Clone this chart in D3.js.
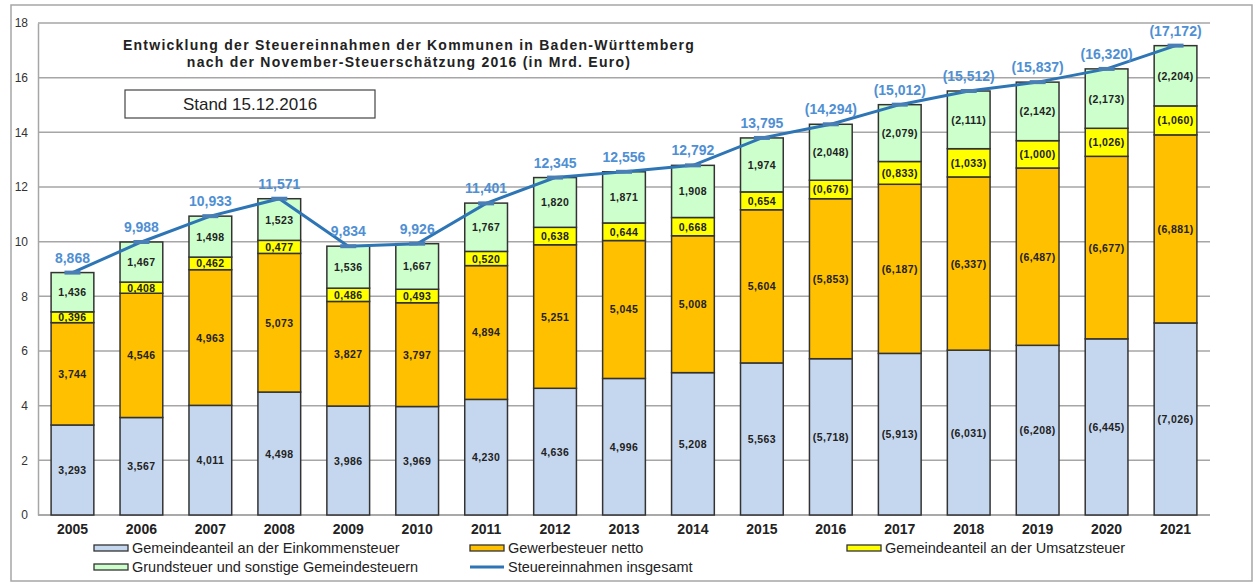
<!DOCTYPE html>
<html>
<head>
<meta charset="utf-8">
<script src="https://cdn.jsdelivr.net/npm/d3@7"></script>
<style>
  body { margin: 0; background: #fff; }
  svg text { font-family: "Liberation Sans", Arial, sans-serif; }
</style>
</head>
<body>
<div id="chart"></div>
<script>
// Data (Mrd. Euro), values from 2016 on are estimates (shown in brackets)
var years = ["2005","2006","2007","2008","2009","2010","2011","2012","2013","2014","2015","2016","2017","2018","2019","2020","2021"];
var einkommen = [3.293, 3.567, 4.011, 4.498, 3.986, 3.969, 4.230, 4.636, 4.996, 5.208, 5.563, 5.718, 5.913, 6.031, 6.208, 6.445, 7.026];
var gewerbe   = [3.744, 4.546, 4.963, 5.073, 3.827, 3.797, 4.894, 5.251, 5.045, 5.008, 5.604, 5.853, 6.187, 6.337, 6.487, 6.677, 6.881];
var umsatz    = [0.396, 0.408, 0.462, 0.477, 0.486, 0.493, 0.520, 0.638, 0.644, 0.668, 0.654, 0.676, 0.833, 1.033, 1.000, 1.026, 1.060];
var grund     = [1.436, 1.467, 1.498, 1.523, 1.536, 1.667, 1.767, 1.820, 1.871, 1.908, 1.974, 2.048, 2.079, 2.111, 2.142, 2.173, 2.204];
var totals    = [8.868, 9.988, 10.933, 11.571, 9.834, 9.926, 11.401, 12.345, 12.556, 12.792, 13.795, 14.294, 15.012, 15.512, 15.837, 16.320, 17.172];
var firstEstimate = "2016";
var yTicks = [0, 2, 4, 6, 8, 10, 12, 14, 16, 18];

var seriesKeys = ["einkommen", "gewerbe", "umsatz", "grund"];
var seriesNames = {
  einkommen: "Gemeindeanteil an der Einkommensteuer",
  gewerbe: "Gewerbesteuer netto",
  umsatz: "Gemeindeanteil an der Umsatzsteuer",
  grund: "Grundsteuer und sonstige Gemeindesteuern"
};
var colors = { einkommen: "#c5d7ef", gewerbe: "#ffc000", umsatz: "#ffff00", grund: "#ccffcc" };
var lineColor = "#2e75b6";

var svgWidth = 1255, svgHeight = 585;
var margin = { top: 23, right: 45, bottom: 70, left: 38 };
var chartWidth = svgWidth - margin.left - margin.right;
var chartHeight = svgHeight - margin.top - margin.bottom;

var svg = d3.select("#chart").append("svg")
  .attr("width", svgWidth)
  .attr("height", svgHeight);

// outer frame
svg.append("rect")
  .attr("x", 11).attr("y", 5)
  .attr("width", 1241).attr("height", 576)
  .attr("fill", "none")
  .attr("stroke", "#a6a6a6")
  .attr("stroke-width", 1.5);

var g = svg.append("g").attr("transform", `translate(${margin.left},${margin.top})`);

var rows = years.map(function(y, i) {
  return { year: y, einkommen: einkommen[i], gewerbe: gewerbe[i], umsatz: umsatz[i], grund: grund[i], total: totals[i] };
});

var x = d3.scaleBand().domain(years).range([0, chartWidth]).paddingInner(0.38).paddingOuter(0.19);
var y = d3.scaleLinear().domain([0, 18]).range([chartHeight, 0]);

var fmt = function(v, year) {
  var s = d3.format(".3f")(v).replace(".", ",");
  return year >= firstEstimate ? "(" + s + ")" : s;
};

// gridlines
g.append("g")
  .selectAll("line")
  .data(yTicks)
  .enter().append("line")
  .attr("x1", 0).attr("x2", chartWidth)
  .attr("y1", d => y(d)).attr("y2", d => y(d))
  .attr("stroke", d => d === 0 ? "#8c8c8c" : "#a6a6a6")
  .attr("stroke-width", 1.5);

// y axis
var leftAxis = d3.axisLeft(y).tickValues(yTicks).tickSize(0).tickPadding(10);
var yAxis = g.append("g").call(leftAxis);
yAxis.select(".domain").attr("stroke", "#a6a6a6").attr("stroke-width", 1.5);
yAxis.selectAll("text").attr("font-size", "12px").attr("fill", "#333")
  .style("font-family", "'Liberation Sans', Arial, sans-serif");

// x axis
var bottomAxis = d3.axisBottom(x).tickSize(0).tickPadding(9);
var xAxis = g.append("g").attr("transform", `translate(0,${chartHeight})`).call(bottomAxis);
xAxis.select(".domain").remove();
xAxis.selectAll("text").attr("font-size", "14px").attr("font-weight", "bold").attr("fill", "#222")
  .style("font-family", "'Liberation Sans', Arial, sans-serif");

// stacked bars
var stack = d3.stack().keys(seriesKeys);
var stacked = stack(rows);

var layers = g.selectAll(".layer")
  .data(stacked)
  .enter().append("g")
  .attr("class", "layer")
  .attr("fill", d => colors[d.key]);

layers.selectAll("rect")
  .data(d => d)
  .enter().append("rect")
  .attr("x", d => x(d.data.year))
  .attr("y", d => y(d[1]))
  .attr("width", x.bandwidth())
  .attr("height", d => y(d[0]) - y(d[1]))
  .attr("stroke", "#333")
  .attr("stroke-width", 1.5);

// segment labels
stacked.forEach(function(layer) {
  g.append("g").selectAll("text")
    .data(layer)
    .enter().append("text")
    .attr("x", d => x(d.data.year) + x.bandwidth() / 2)
    .attr("y", d => (y(d[0]) + y(d[1])) / 2 + 4)
    .attr("text-anchor", "middle")
    .attr("font-size", "10.5px")
    .attr("font-weight", "bold")
    .attr("letter-spacing", "0.4px")
    .attr("fill", "#222")
    .text(d => fmt(d.data[layer.key], d.data.year));
});

// total line
var line = d3.line()
  .x(d => x(d.year) + x.bandwidth() / 2)
  .y(d => y(d.total));

g.append("path")
  .datum(rows)
  .attr("d", line)
  .attr("fill", "none")
  .attr("stroke", lineColor)
  .attr("stroke-width", 3);

g.append("g").selectAll("rect")
  .data(rows)
  .enter().append("rect")
  .attr("x", d => x(d.year) + x.bandwidth() / 2 - 8)
  .attr("y", d => y(d.total) - 2)
  .attr("width", 16).attr("height", 4)
  .attr("fill", "#4a7fb5");

g.append("g").selectAll("text")
  .data(rows)
  .enter().append("text")
  .attr("x", d => x(d.year) + x.bandwidth() / 2)
  .attr("y", d => y(d.total) - 10)
  .attr("text-anchor", "middle")
  .attr("font-size", "14px")
  .attr("font-weight", "bold")
  .attr("fill", "#4f8fd3")
  .text(d => fmt(d.total, d.year));

// title
var title = svg.append("text")
  .attr("x", 409).attr("y", 50)
  .attr("text-anchor", "middle")
  .attr("font-size", "14px")
  .attr("font-weight", "bold")
  .attr("letter-spacing", "1.25px")
  .attr("fill", "#222");
title.append("tspan").attr("x", 409).attr("dy", 0).text("Entwicklung der Steuereinnahmen der Kommunen in Baden-Württemberg");
title.append("tspan").attr("x", 409).attr("dy", 17).text("nach der November-Steuerschätzung 2016 (in Mrd. Euro)");

// Stand box
svg.append("rect")
  .attr("x", 125).attr("y", 90)
  .attr("width", 250).attr("height", 28)
  .attr("fill", "#fff")
  .attr("stroke", "#444")
  .attr("stroke-width", 1.2);
svg.append("text")
  .attr("x", 250).attr("y", 110)
  .attr("text-anchor", "middle")
  .attr("font-size", "17px")
  .attr("fill", "#222")
  .text("Stand 15.12.2016");

// legend
var legendItems = [
  { key: "einkommen", x: 94, y: 548 },
  { key: "gewerbe", x: 470, y: 548 },
  { key: "umsatz", x: 847, y: 548 },
  { key: "grund", x: 94, y: 567 },
  { key: "line", x: 470, y: 567 }
];

var legend = svg.append("g");
legendItems.forEach(function(item) {
  if (item.key === "line") {
    legend.append("line")
      .attr("x1", item.x).attr("x2", item.x + 34)
      .attr("y1", item.y).attr("y2", item.y)
      .attr("stroke", lineColor).attr("stroke-width", 3);
  } else {
    legend.append("rect")
      .attr("x", item.x).attr("y", item.y - 3)
      .attr("width", 34).attr("height", 6)
      .attr("fill", colors[item.key])
      .attr("stroke", "#333").attr("stroke-width", 1.3);
  }
  legend.append("text")
    .attr("x", item.x + 38).attr("y", item.y + 5)
    .attr("font-size", "14.5px")
    .attr("fill", "#222")
    .text(item.key === "line" ? "Steuereinnahmen insgesamt" : seriesNames[item.key]);
});
</script>
</body>
</html>
